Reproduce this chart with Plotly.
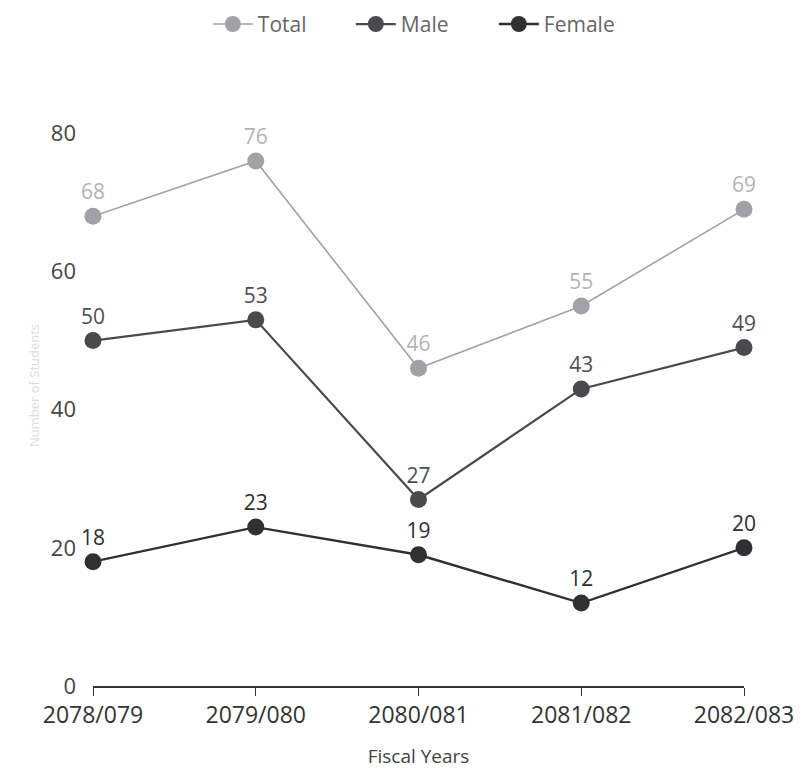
import plotly.graph_objects as go

years = ["2078/079", "2079/080", "2080/081", "2081/082", "2082/083"]
total = [68, 76, 46, 55, 69]
male = [50, 53, 27, 43, 49]
female = [18, 23, 19, 12, 20]

series = [
    ("Total", total, "#a3a1a8", "#b4b2b9", 1.6),
    ("Male", male, "#4a494e", "#4f4e52", 2.2),
    ("Female", female, "#303033", "#2e2e30", 2.4),
]

fig = go.Figure()
for name, vals, col, tcol, lw in series:
    fig.add_trace(go.Scatter(
        x=years, y=vals, name=name, mode="lines+markers+text",
        text=[str(v) for v in vals], textposition="top center",
        textfont=dict(size=21, color=tcol, family="Open Sans"),
        line=dict(color=col, width=lw),
        marker=dict(size=17, color=col),
        cliponaxis=False,
    ))

fig.update_layout(
    width=806, height=776,
    paper_bgcolor="white", plot_bgcolor="white",
    margin=dict(l=93, r=58, t=85, b=88),
    font=dict(family="Open Sans", size=17, color="#333"),
    showlegend=True,
    legend=dict(orientation="h", x=0.524, xanchor="center", y=0.995, yanchor="top",
                yref="container", xref="container",
                font=dict(size=21, color="#666"), itemwidth=40,
                entrywidth=88, entrywidthmode="pixels"),
    xaxis=dict(
        type="category", range=[0, 4], showgrid=False, zeroline=False,
        showline=True, linecolor="#333", linewidth=1.5,
        ticks="outside", ticklen=8, tickcolor="#333",
        tickfont=dict(size=23, color="#333"),
        title=dict(text="Fiscal Years", font=dict(size=19, color="#444"), standoff=20),
    ),
    yaxis=dict(
        range=[0, 87], tickvals=[0, 20, 40, 60, 80], showgrid=False, zeroline=False,
        showline=False, ticks="", tickfont=dict(size=22, color="#444"),
        ticklabelstandoff=16,
        title=dict(text="Number of Students", font=dict(size=13, color="#dcdcdc"), standoff=8),
    ),
)

fig.write_html("out.html")
